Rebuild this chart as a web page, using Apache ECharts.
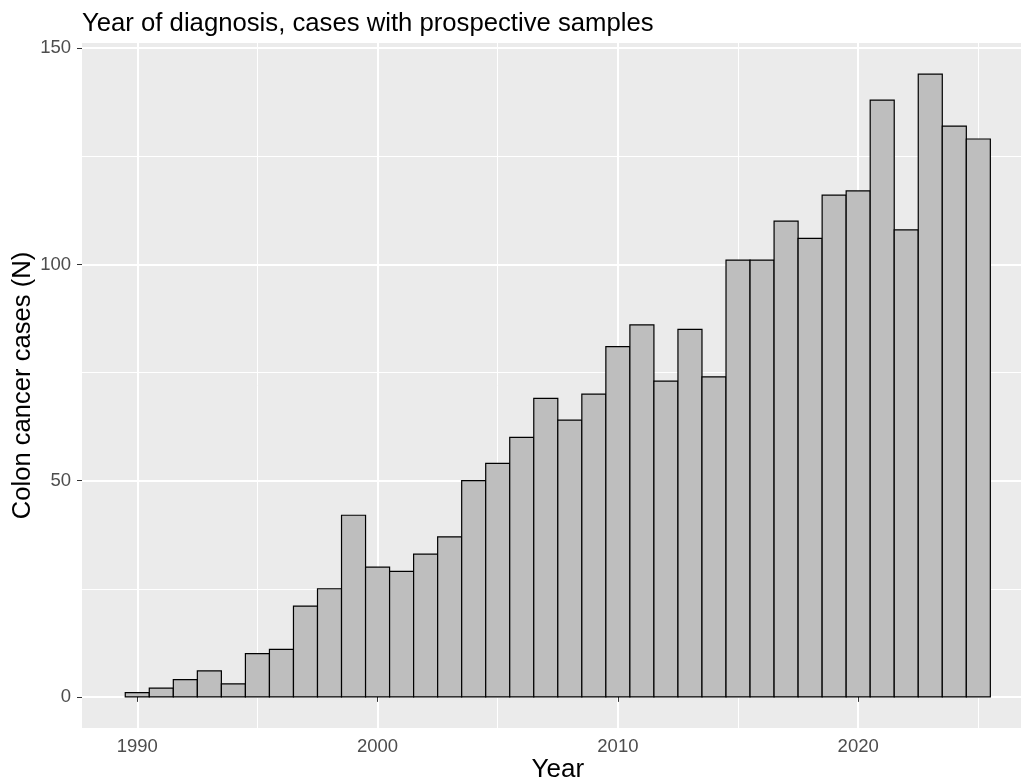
<!DOCTYPE html>
<html><head><meta charset="utf-8">
<script src="https://cdn.jsdelivr.net/npm/echarts@6/dist/echarts.min.js"></script>
<style>html,body{margin:0;padding:0;background:#fff}#c{width:1021px;height:783px}</style>
</head><body><div id="c"></div>
<script>
const years = [1990, 1991, 1992, 1993, 1994, 1995, 1996, 1997, 1998, 1999,
               2000, 2001, 2002, 2003, 2004, 2005, 2006, 2007, 2008, 2009,
               2010, 2011, 2012, 2013, 2014, 2015, 2016, 2017, 2018, 2019,
               2020, 2021, 2022, 2023, 2024, 2025];
const counts = [1, 2, 4, 6, 3, 10, 11, 21, 25, 42,
                30, 29, 33, 37, 50, 54, 60, 69, 64, 70,
                81, 86, 73, 85, 74, 101, 101, 110, 106, 116,
                117, 138, 108, 144, 132, 129];
const xMajorTicks = [1990, 2000, 2010, 2020];
const xMinorTicks = [1995, 2005, 2015, 2025];
const yMajorTicks = [0, 50, 100, 150];
const yMinorTicks = [25, 75, 125];
const binWidth = 1;

const FONT = '"Liberation Sans", Arial, sans-serif';
const xMin = 1987.7, xMax = 2027.3, yMin = -7.2, yMax = 151.2;

const chart = echarts.init(document.getElementById('c'), null, {renderer: 'canvas'});
const option = {
  animation: false,
  backgroundColor: '#ffffff',
  title: {
    text: 'Year of diagnosis, cases with prospective samples',
    left: 82, top: 11, padding: 0,
    textStyle: {fontFamily: FONT, fontSize: 25.7, fontWeight: 'normal', color: '#000'}
  },
  grid: {left: 82, right: -12.6, top: 43, bottom: 55, show: true,
         backgroundColor: '#EBEBEB', borderWidth: 0,
         containLabel: false, outerBoundsMode: 'none'},
  xAxis: [
    {
      type: 'value', min: xMin, max: xMax,
      name: 'Year', nameLocation: 'middle', nameGap: 29, nameMoveOverlap: false,
      nameTextStyle: {fontFamily: FONT, fontSize: 26, color: '#000'},
      axisLine: {show: false},
      axisTick: {show: true, length: 5, lineStyle: {color: '#333333', width: 1}, customValues: xMajorTicks},
      axisLabel: {customValues: xMajorTicks, margin: 9, fontSize: 18.5, color: '#4D4D4D',
                  fontFamily: FONT, formatter: v => String(v)},
      splitLine: {show: true, lineStyle: {color: '#ffffff', width: 2}}
    },
    {
      type: 'value', min: xMin, max: xMax, position: 'bottom',
      axisLine: {show: false},
      axisTick: {show: false, customValues: xMinorTicks},
      axisLabel: {show: false, customValues: xMinorTicks},
      splitLine: {show: true, lineStyle: {color: '#ffffff', width: 1}}
    }
  ],
  yAxis: [
    {
      type: 'value', min: yMin, max: yMax,
      name: 'Colon cancer cases (N)', nameLocation: 'middle', nameGap: 46, nameMoveOverlap: false,
      nameTextStyle: {fontFamily: FONT, fontSize: 25.6, color: '#000'},
      axisLine: {show: false},
      axisTick: {show: true, length: 5, lineStyle: {color: '#333333', width: 1}, customValues: yMajorTicks},
      axisLabel: {customValues: yMajorTicks, margin: 11, fontSize: 18.5, color: '#4D4D4D',
                  fontFamily: FONT, formatter: v => String(v)},
      splitLine: {show: true, lineStyle: {color: '#ffffff', width: 2}}
    },
    {
      type: 'value', min: yMin, max: yMax, position: 'left',
      axisLine: {show: false},
      axisTick: {show: false, customValues: yMinorTicks},
      axisLabel: {show: false, customValues: yMinorTicks},
      splitLine: {show: true, lineStyle: {color: '#ffffff', width: 1}}
    }
  ],
  series: [{
    type: 'custom',
    xAxisIndex: 0, yAxisIndex: 0,
    data: years.map((y, i) => [y, counts[i]]),
    encode: {x: 0, y: 1},
    z: 3,
    renderItem: function (params, api) {
      const x = api.value(0), v = api.value(1);
      const p0 = api.coord([x - binWidth / 2, v]);
      const p1 = api.coord([x + binWidth / 2, 0]);
      return {
        type: 'rect',
        shape: {x: p0[0], y: p0[1], width: p1[0] - p0[0], height: p1[1] - p0[1]},
        style: {fill: '#BEBEBE', stroke: '#000000', lineWidth: 1.2}
      };
    }
  }]
};
chart.setOption(option);
</script></body></html>
